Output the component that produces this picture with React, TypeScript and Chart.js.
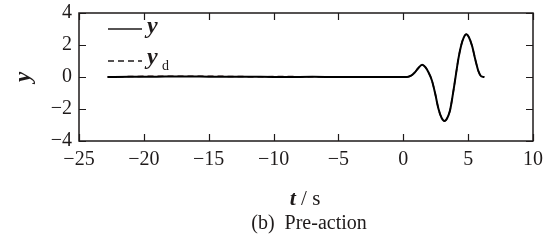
import React, { useEffect, useRef } from "react";
import { Chart, registerables } from "chart.js";

Chart.register(...registerables);

const timeS = [-22.8, -21, -19, -17, -15, -13, -11, -9, -7, -5, -3, -1, 0, 0.3, 0.6, 0.9, 1.15, 1.45, 1.7, 1.95, 2.2, 2.45, 2.7, 2.95, 3.18, 3.4, 3.6, 3.8, 4.03, 4.25, 4.47, 4.65, 4.86, 5.05, 5.3, 5.55, 5.8, 6.0, 6.25];
const yValues = [0, 0.01, 0.02, 0.03, 0.02, 0.01, 0.01, 0.0, 0.01, 0.0, 0.0, 0.0, 0, 0, 0.08, 0.3, 0.55, 0.76, 0.62, 0.28, -0.2, -1.0, -1.95, -2.55, -2.75, -2.55, -2.1, -1.2, 0, 1.15, 2.0, 2.45, 2.67, 2.5, 1.95, 1.1, 0.35, 0.05, 0];
const ydValues = [0, 0.03, 0.05, 0.04, 0.05, 0.03, 0.02, 0.03, 0.01, 0.02, 0.01, 0.01, 0, 0, 0.08, 0.3, 0.55, 0.76, 0.62, 0.28, -0.2, -1.0, -1.95, -2.55, -2.75, -2.55, -2.1, -1.2, 0, 1.15, 2.0, 2.45, 2.67, 2.5, 1.95, 1.1, 0.35, 0.05, 0];
const xTicks = [-25, -20, -15, -10, -5, 0, 5, 10];
const yTicks = [-4, -2, 0, 2, 4];
const xTitle = ["t", " / s"];
const yTitle = "y";
const caption = "(b)  Pre-action";
const legendLabels = ["y", "y", "d"];

const SERIF = '"Liberation Serif", "Times New Roman", serif';
const INK = "#1e1a1a";

const fmt = (v: number) => (v < 0 ? "\u2212" + Math.abs(v) : String(v));

const framePlugin = {
  id: "frame",
  afterDraw(chart: any) {
    const { ctx, chartArea: a, scales } = chart;
    const xs = scales.x;
    const ys = scales.y;
    ctx.save();
    ctx.strokeStyle = INK;
    ctx.lineWidth = 1.5;
    ctx.strokeRect(a.left, a.top, a.right - a.left, a.bottom - a.top);
    const tl = 7;
    ctx.lineWidth = 1.2;
    ctx.beginPath();
    xTicks.forEach((v) => {
      const px = Math.round(xs.getPixelForValue(v)) + 0.5;
      ctx.moveTo(px, a.bottom);
      ctx.lineTo(px, a.bottom - tl);
      ctx.moveTo(px, a.top);
      ctx.lineTo(px, a.top + tl);
    });
    yTicks.forEach((v) => {
      const py = Math.round(ys.getPixelForValue(v)) + 0.5;
      ctx.moveTo(a.left, py);
      ctx.lineTo(a.left + tl, py);
      ctx.moveTo(a.right, py);
      ctx.lineTo(a.right - tl, py);
    });
    ctx.stroke();

    // legend
    ctx.fillStyle = INK;
    ctx.lineWidth = 1.6;
    ctx.beginPath();
    ctx.moveTo(108, 29);
    ctx.lineTo(142, 29);
    ctx.stroke();
    ctx.setLineDash([6, 4]);
    ctx.beginPath();
    ctx.moveTo(108, 61);
    ctx.lineTo(142, 61);
    ctx.stroke();
    ctx.setLineDash([]);
    ctx.textBaseline = "alphabetic";
    ctx.textAlign = "left";
    ctx.font = "italic bold 24px " + SERIF;
    ctx.fillText(legendLabels[0], 147, 33);
    ctx.fillText(legendLabels[1], 147, 64);
    ctx.font = "14px " + SERIF;
    ctx.fillText(legendLabels[2], 162, 70);

    // x title
    ctx.font = "italic bold 22px " + SERIF;
    const w1 = ctx.measureText(xTitle[0]).width;
    ctx.font = "21px " + SERIF;
    const w2 = ctx.measureText(xTitle[1]).width;
    const sx = 305 - (w1 + w2) / 2;
    ctx.font = "italic bold 22px " + SERIF;
    ctx.fillText(xTitle[0], sx, 205);
    ctx.font = "21px " + SERIF;
    ctx.fillText(xTitle[1], sx + w1, 205);

    // caption
    ctx.textAlign = "center";
    ctx.font = "20px " + SERIF;
    ctx.fillText(caption, 309, 229);

    // y title
    ctx.translate(24, 77);
    ctx.rotate(-Math.PI / 2);
    ctx.font = "italic bold 23px " + SERIF;
    ctx.textBaseline = "middle";
    ctx.fillText(yTitle, 0, 0);
    ctx.restore();
  },
};

export default function App() {
  const ref = useRef<HTMLCanvasElement | null>(null);
  useEffect(() => {
    if (!ref.current) return;
    const chart = new Chart(ref.current, {
      type: "line",
      data: {
        datasets: [
          {
            label: "y",
            data: timeS.map((t, i) => ({ x: t, y: yValues[i] })),
            borderColor: "#000000",
            borderWidth: 2,
            pointRadius: 0,
            cubicInterpolationMode: "monotone",
          },
          {
            label: "yd",
            data: timeS.map((t, i) => ({ x: t, y: ydValues[i] })),
            borderColor: "#3a1414",
            borderWidth: 1.5,
            borderDash: [6, 4],
            pointRadius: 0,
            cubicInterpolationMode: "monotone",
          },
        ],
      },
      options: {
        animation: false,
        responsive: false,
        devicePixelRatio: 1,
        layout: { padding: { top: 13, right: 19, left: 0, bottom: 0 } },
        plugins: { legend: { display: false }, tooltip: { enabled: false } },
        scales: {
          x: {
            type: "linear",
            min: -25,
            max: 10,
            afterBuildTicks: (s: any) => {
              s.ticks = xTicks.map((v) => ({ value: v }));
            },
            afterFit: (s: any) => {
              s.height = 105;
              s.paddingLeft = 0;
              s.paddingRight = 0;
            },
            grid: { display: false, drawTicks: false },
            border: { display: false },
            ticks: {
              padding: 7,
              maxRotation: 0,
              autoSkip: false,
              color: INK,
              font: { family: SERIF, size: 20 },
              callback: (v: any) => fmt(Number(v)),
            },
          },
          y: {
            type: "linear",
            min: -4,
            max: 4,
            afterBuildTicks: (s: any) => {
              s.ticks = yTicks.map((v) => ({ value: v }));
            },
            afterFit: (s: any) => {
              s.width = 79;
              s.paddingTop = 0;
              s.paddingBottom = 0;
            },
            grid: { display: false, drawTicks: false },
            border: { display: false },
            ticks: {
              padding: 7,
              autoSkip: false,
              color: INK,
              font: { family: SERIF, size: 20 },
              callback: (v: any) => fmt(Number(v)),
            },
          },
        },
      },
      plugins: [framePlugin],
    } as any);
    return () => chart.destroy();
  }, []);
  return (
    <div style={{ position: "fixed", left: 0, top: 0, width: 552, height: 246, background: "#fff" }}>
      <canvas ref={ref} width={552} height={246} style={{ display: "block" }} />
    </div>
  );
}
